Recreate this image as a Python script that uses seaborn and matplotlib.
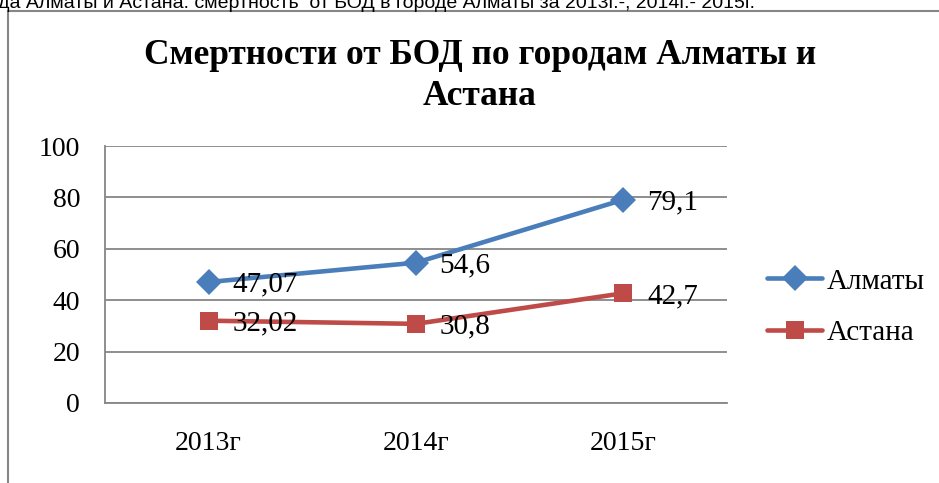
import pandas as pd
import seaborn as sns
import matplotlib.pyplot as plt
from matplotlib.lines import Line2D

# data
years = ['2013г', '2014г', '2015г']
almaty = [47.07, 54.6, 79.1]
astana = [32.02, 30.8, 42.7]
cities = ['Алматы', 'Астана']

df = pd.DataFrame({
    'Год': years * 2,
    'Значение': almaty + astana,
    'Город': [cities[0]] * 3 + [cities[1]] * 3,
})

sns.set_style('white')
plt.rcParams['font.family'] = ['Liberation Serif', 'DejaVu Serif']
plt.rcParams['text.color'] = 'black'
plt.rcParams['xtick.color'] = 'black'
plt.rcParams['ytick.color'] = 'black'

fig = plt.figure(figsize=(9.39, 4.83), dpi=100)
ax = fig.add_axes([105 / 939, 80 / 483, 622 / 939, 257 / 483])

palette = {'Алматы': '#4a7ebb', 'Астана': '#be4b48'}
sns.lineplot(data=df, x='Год', y='Значение', hue='Город', style='Город',
             markers={'Алматы': 'D', 'Астана': 's'}, dashes=False,
             palette=palette, linewidth=3.3, markersize=13,
             markeredgewidth=0, ax=ax, legend=False)

# data labels, comma as decimal separator
for vals in (almaty, astana):
    for i, v in enumerate(vals):
        ax.annotate(f'{v:g}'.replace('.', ','), (i, v), xytext=(17, -2),
                    textcoords='offset points', ha='left', va='center',
                    fontsize=21, color='black')

ax.set_xlim(-0.5, 2.5)
ax.set_ylim(0, 100)
ax.set_yticks(range(0, 101, 20))
ax.set_xlabel('')
ax.set_ylabel('')
ax.tick_params(axis='both', length=0, labelsize=20)
ax.tick_params(axis='y', pad=18)
ax.tick_params(axis='x', pad=20)
ax.yaxis.grid(True, color='#868686', linewidth=1.3)
ax.set_axisbelow(True)
for side in ('top', 'right'):
    ax.spines[side].set_visible(False)
for side in ('left', 'bottom'):
    ax.spines[side].set_color('#868686')
    ax.spines[side].set_linewidth(1.3)

handles = [Line2D([], [], color=palette[c], marker=m, markersize=13,
                  markeredgewidth=0, linewidth=3.3)
           for c, m in zip(cities, ['D', 's'])]
fig.legend(handles, cities, loc='center left',
           bbox_to_anchor=(767 / 939, 1 - 307 / 483), frameon=False,
           fontsize=21, handlelength=1.9, handletextpad=0.15,
           labelspacing=0.85, borderpad=0, borderaxespad=0)

fig.text(480 / 939, 1 - 39 / 483,
         'Смертности от БОД по городам Алматы и\nАстана',
         ha='center', va='top', fontsize=25.5, fontweight='bold',
         linespacing=1.32, color='black')

# caption line above the chart, cut by the top edge as in the original, and the chart frame
fig.text(-2 / 939, 1 - 8.5 / 483,
         'да Алматы и Астана. смертность  от БОД в городе Алматы за 2013г.-, 2014г.- 2015г.',
         ha='left', va='baseline', fontsize=14, family='Liberation Sans')
fig.add_artist(Line2D([8 / 939, 8 / 939], [0, 1 - 11 / 483],
                      transform=fig.transFigure, color='#868686', linewidth=1.5))
fig.add_artist(Line2D([8 / 939, 1], [1 - 11 / 483, 1 - 11 / 483],
                      transform=fig.transFigure, color='#868686', linewidth=1.5))

fig.savefig('out.png', dpi=100)
